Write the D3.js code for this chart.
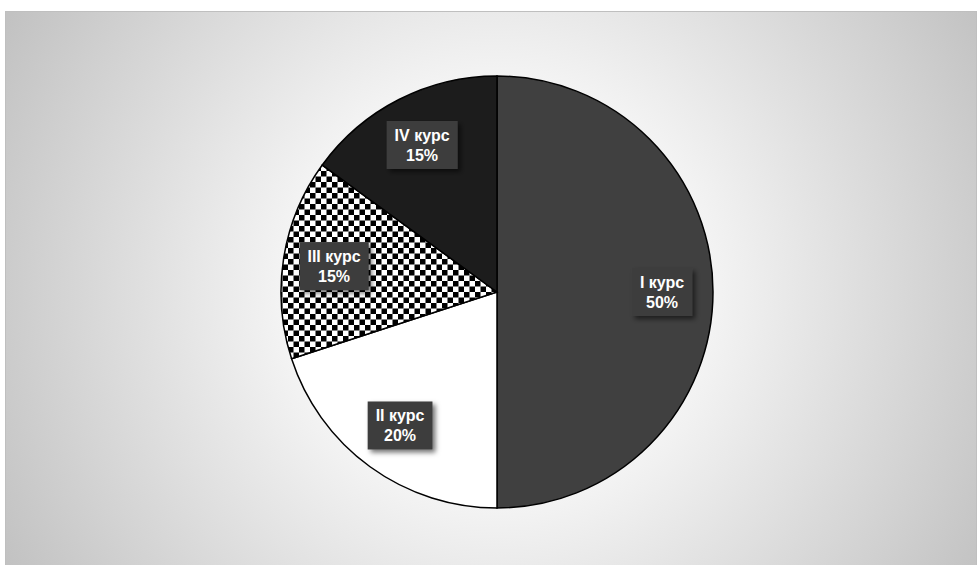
<!DOCTYPE html>
<html>
<head>
<meta charset="utf-8">
<script src="https://cdn.jsdelivr.net/npm/d3@7"></script>
<style>
  body { margin: 0; background: #fff; }
  svg { display: block; }
</style>
</head>
<body>
<div id="chart"></div>
<script>
const categories = ["I курс", "II курс", "III курс", "IV курс"];
const values = [50, 20, 15, 15];
const fills = ["#404040", "#ffffff", "url(#checker)", "#1c1c1c"];

const W = 977, H = 565;
const cx = 497, cy = 292, R = 216;

const svg = d3.select("#chart").append("svg")
    .attr("width", W)
    .attr("height", H);

const defs = svg.append("defs");

// background gradient
const grad = defs.append("radialGradient")
    .attr("id", "bg")
    .attr("gradientUnits", "userSpaceOnUse")
    .attr("cx", cx).attr("cy", cy).attr("r", 560);
grad.append("stop").attr("offset", "0%").attr("stop-color", "#ffffff");
grad.append("stop").attr("offset", "35%").attr("stop-color", "#f6f6f6");
grad.append("stop").attr("offset", "100%").attr("stop-color", "#c2c2c2");

// checkerboard
const c = 5.5;
const pat = defs.append("pattern")
    .attr("id", "checker")
    .attr("patternUnits", "userSpaceOnUse")
    .attr("width", 2 * c).attr("height", 2 * c);
pat.append("rect").attr("width", 2 * c).attr("height", 2 * c).attr("fill", "#fff");
pat.append("rect").attr("width", c).attr("height", c).attr("fill", "#000");
pat.append("rect").attr("x", c).attr("y", c).attr("width", c).attr("height", c).attr("fill", "#000");

// label shadow
const f = defs.append("filter").attr("id", "shadow")
    .attr("x", "-20%").attr("y", "-20%").attr("width", "150%").attr("height", "160%");
f.append("feDropShadow")
    .attr("dx", 3).attr("dy", 3).attr("stdDeviation", 2.5)
    .attr("flood-color", "#000").attr("flood-opacity", 0.55);

svg.append("rect")
    .attr("x", 5.5).attr("y", 11.5)
    .attr("width", W - 6).attr("height", H)
    .attr("fill", "url(#bg)")
    .attr("stroke", "#bfbfbf");

const pie = d3.pie().sort(null).value(d => d);
const arcs = pie(values);
const arc = d3.arc().innerRadius(0).outerRadius(R);
const labelArc = d3.arc().innerRadius(165).outerRadius(165);

const g = svg.append("g").attr("transform", `translate(${cx},${cy})`);

g.selectAll("path")
    .data(arcs)
    .join("path")
    .attr("d", arc)
    .attr("fill", (d, i) => fills[i])
    .attr("stroke", "#000")
    .attr("stroke-width", 1.5);

const labels = g.selectAll("g.lbl")
    .data(arcs)
    .join("g")
    .attr("class", "lbl")
    .attr("transform", d => `translate(${labelArc.centroid(d)})`);

const box = labels.append("rect")
    .attr("fill", "#3d3d3d")
    .attr("filter", "url(#shadow)");

const txt = labels.append("text")
    .attr("text-anchor", "middle")
    .attr("fill", "#fff")
    .attr("font-family", "Arial, 'Liberation Sans', sans-serif")
    .attr("font-weight", "bold")
    .attr("font-size", 16);
txt.append("tspan").attr("x", 0).attr("y", -4).text(d => categories[d.index]);
txt.append("tspan").attr("x", 0).attr("y", 16).text(d => d.data + "%");

txt.each(function () {
    const bb = this.getBBox();
    d3.select(this.previousSibling)
        .attr("x", bb.x - 8)
        .attr("y", -24)
        .attr("width", bb.width + 16)
        .attr("height", 48);
});
</script>
</body>
</html>
